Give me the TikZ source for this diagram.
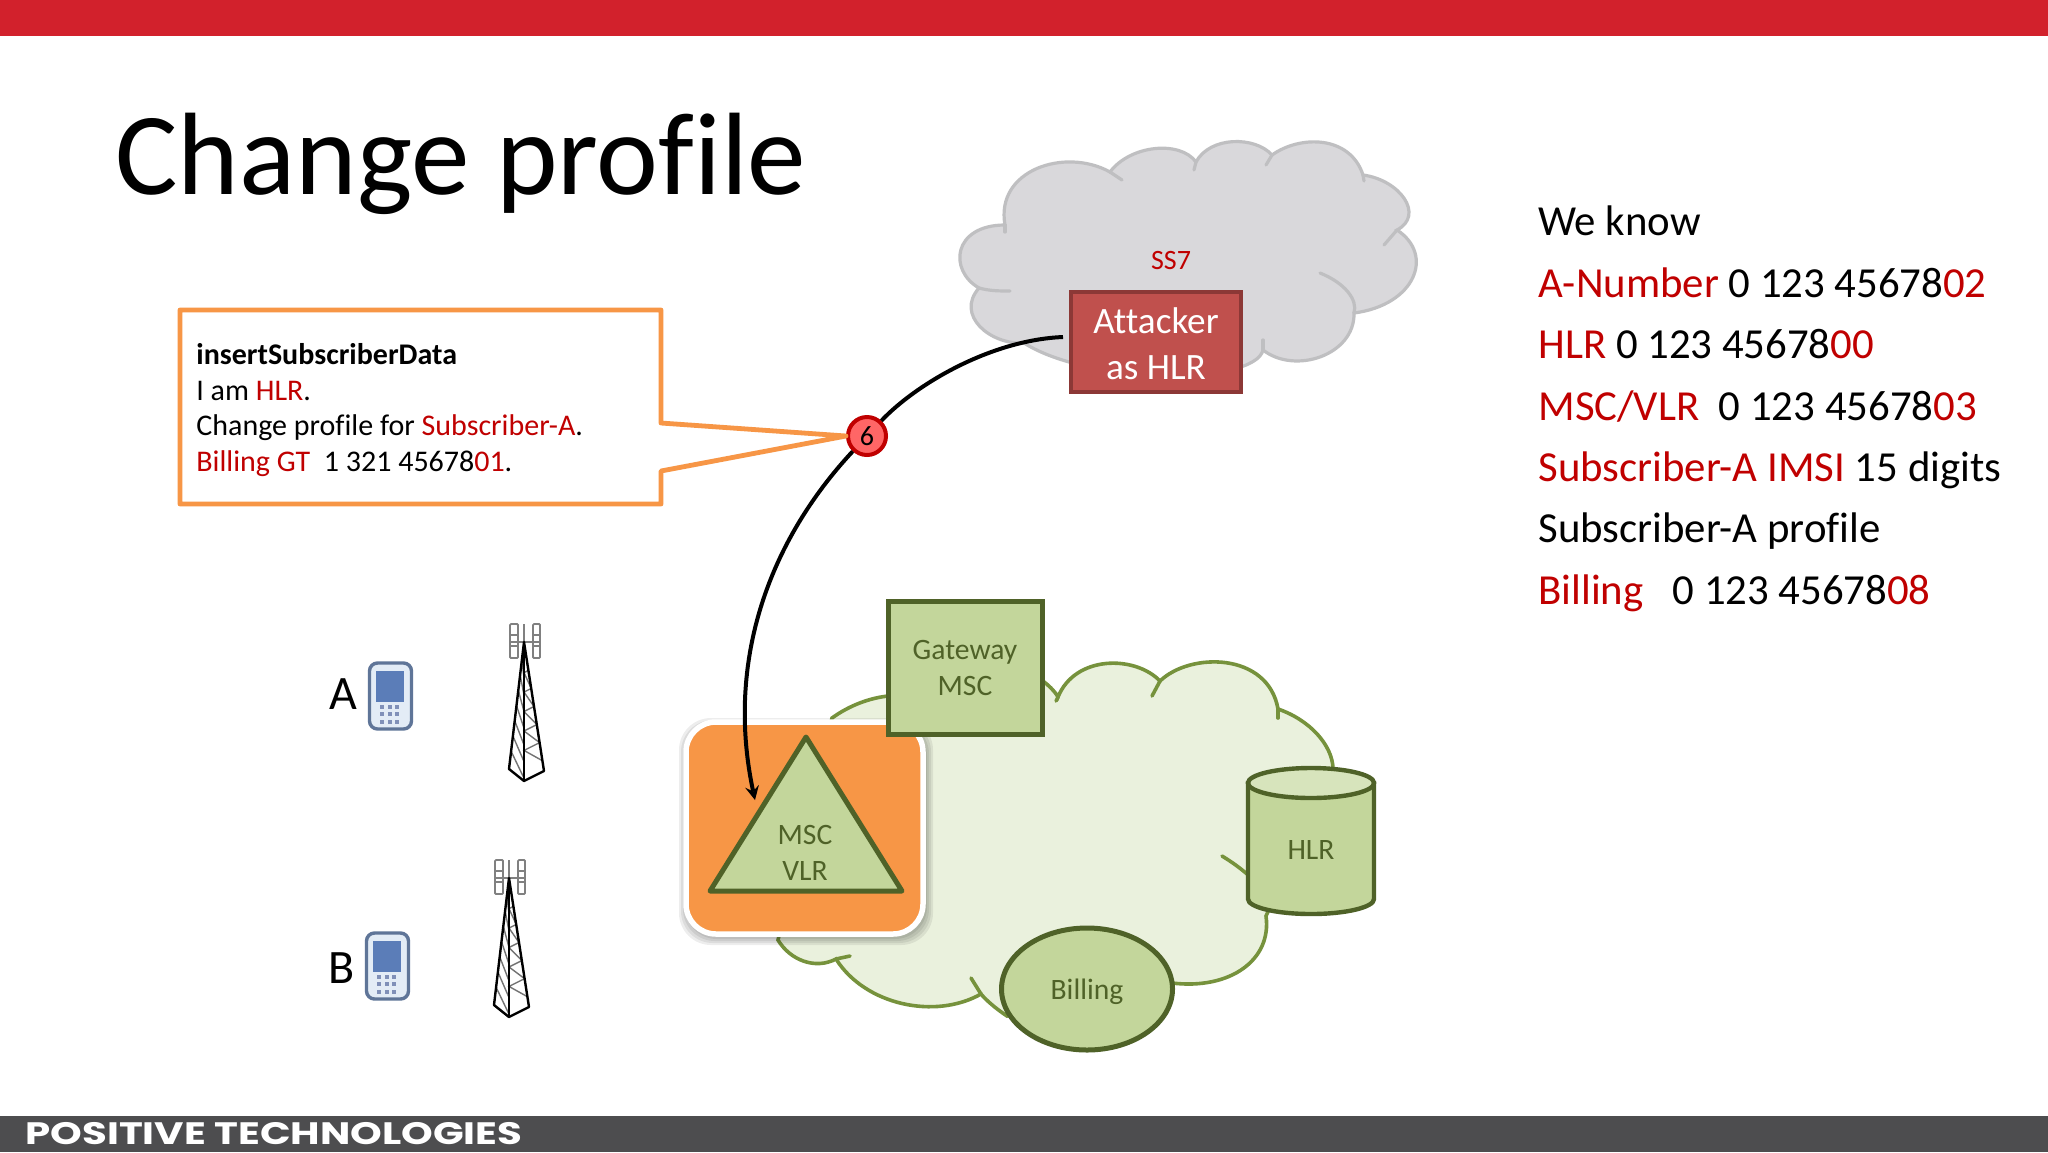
\documentclass[tikz,border=0pt]{standalone}
\usepackage{fontspec}
\setmainfont{Carlito}[Ligatures=NoCommon]
\newfontfamily\logofont{Poppins}
\usetikzlibrary{shapes.geometric, arrows, calc}
\definecolor{topred}{HTML}{D2212C}
\definecolor{footgray}{HTML}{4D4D4F}
\definecolor{ssred}{HTML}{C00000}
\definecolor{orangefill}{HTML}{F79646}
\definecolor{grayfill}{HTML}{D9D8DB}
\definecolor{grayline}{HTML}{BFBFC1}
\definecolor{attfill}{HTML}{C0504D}
\definecolor{attline}{HTML}{8C3836}
\definecolor{cloudfill}{HTML}{EAF1DD}
\definecolor{cloudline}{HTML}{76923C}
\definecolor{eqfill}{HTML}{C3D69B}
\definecolor{eqtop}{HTML}{D7E4BC}
\definecolor{eqline}{HTML}{4F6228}
\definecolor{phoneline}{HTML}{5F7598}
\definecolor{phonefill}{HTML}{E3ECF6}
\definecolor{phonescreen}{HTML}{5B7DB8}
\definecolor{phonekey}{HTML}{8090B8}
\newcommand{\redtxt}[1]{\textcolor{ssred}{#1}}
\tikzstyle{arrow} = [line width=2pt,black,-stealth]
\tikzstyle{link} = [line width=2pt,black]
\tikzstyle{graycloud} = [line width=1.6pt,draw=grayline,line cap=round]
\tikzstyle{greencloud} = [line width=1.8pt,draw=cloudline,line cap=round]
\tikzstyle{equip} = [draw=eqline,fill=eqfill,line width=2.5pt,text=eqline,align=center,inner sep=0pt,font=\fontsize{14.8}{18}\selectfont]
\tikzstyle{equiptext} = [text=eqline,align=center,inner sep=0pt,font=\fontsize{14.8}{18}\selectfont]

\begin{document}
\begin{tikzpicture}[x=0.5pt,y=-0.5pt]
\useasboundingbox (0,0) rectangle (2048,1152);
\fill[white] (0,0) rectangle (2048,1152);
\fill[topred] (0,0) rectangle (2048,36);
\fill[footgray] (0,1116) rectangle (2048,1152);
\node[anchor=base west,inner sep=0pt,text=white,xscale=1.3,font=\logofont\bfseries\fontsize{15.5}{17}\selectfont] (logo) at (25,1144) {POSITIVE TECHNOLOGIES};
\node[anchor=base west,inner sep=0pt,font=\fontsize{58.6}{60}\selectfont] (title) at (115,194) {Change profile};
% SS7 cloud
\path[graycloud,fill=grayfill] (1005,225) .. controls (995,170) and (1065,147) .. (1110,172)
  .. controls (1130,145) and (1180,140) .. (1196,162)
  .. controls (1210,136) and (1255,136) .. (1272,155)
  .. controls (1300,135) and (1350,135) .. (1363,175)
  .. controls (1400,180) and (1425,215) .. (1397,230)
  .. controls (1435,255) and (1415,305) .. (1354,313)
  .. controls (1355,355) and (1295,375) .. (1263,350)
  .. controls (1255,385) and (1090,385) .. (1024,343)
  .. controls (990,345) and (955,315) .. (979,288)
  .. controls (948,270) and (953,225) .. (1005,225) -- cycle;
\draw[graycloud] (1110,172) -- (1122,180);
\draw[graycloud] (1196,162) -- (1194,170);
\draw[graycloud] (1272,155) -- (1266,165);
\draw[graycloud] (1363,175) -- (1364,181);
\draw[graycloud] (1397,230) -- (1384,245);
\draw[graycloud] (1320,273) .. controls (1345,283) and (1358,300) .. (1354,313);
\draw[graycloud] (1263,350) -- (1263,340);
\draw[graycloud] (979,288) .. controls (990,291) and (1000,291) .. (1010,291);
\draw[graycloud] (1005,225) -- (1005,232);
\node[text=ssred,font=\fontsize{14}{16}\selectfont] (ssname) at (1171,261) {SS7};
\node[draw=attline,fill=attfill,line width=2pt,inner sep=0pt,minimum width=85pt,minimum height=50pt] (attacker) at (1156,342) {};
\node[text=white,align=center,inner sep=0pt,font=\fontsize{18.6}{23}\selectfont] (attackername) at (1156,343.5) {Attacker\\as HLR};
% network cloud
\path[greencloud,fill=cloudfill] (832,718) .. controls (850,705) and (870,698) .. (888,696)
  -- (1043,681) .. controls (1048,685) and (1054,690) .. (1058,697)
  .. controls (1075,655) and (1135,655) .. (1160,681)
  .. controls (1190,652) and (1268,652) .. (1278,709)
  .. controls (1310,720) and (1332,745) .. (1333,768)
  -- (1266,916) .. controls (1272,960) and (1230,990) .. (1172,983)
  -- (1007,1016) .. controls (995,1008) and (986,1000) .. (981,994)
  .. controls (935,1020) and (865,1005) .. (836,959)
  .. controls (815,970) and (790,960) .. (778,940) -- cycle;
\draw[greencloud] (981,994) -- (971,978);
\draw[greencloud] (836,959) -- (850,956);
\draw[greencloud] (1278,709) -- (1278,718);
\draw[greencloud] (1160,681) -- (1152,696);
\draw[greencloud] (1058,697) -- (1056,701);
\draw[greencloud] (1222,856) .. controls (1232,862) and (1240,868) .. (1247,874);
% attacked MSC
\foreach \sd in {1,3,5,7}
  \fill[black,opacity=.07,rounded corners=16pt] (686-\sd,725-\sd) rectangle (926+\sd,938+\sd);
\fill[orangefill,draw=white,line width=2.75pt,rounded corners=15pt] (686,722) rectangle (923,934);
\node[equip,minimum width=77pt,minimum height=66.5pt] (gateway) at (965,667.5) {Gateway\\MSC};
\draw[draw=eqline,fill=eqfill,line width=2.5pt,line join=round] (806,737) -- (902,891) -- (710,891) -- cycle;
\node[equiptext] (vlr) at (805,853.3) {MSC\\VLR};
\coordinate (vlrtip) at (755,800);
\draw[draw=eqline,fill=eqfill,line width=2.2pt] (1248,783) -- (1248,899) arc[start angle=180,end angle=0,x radius=63,y radius=15] -- (1374,783) -- cycle;
\draw[draw=eqline,fill=eqtop,line width=2.2pt] (1311,783) ellipse [x radius=63,y radius=15];
\node[equiptext] (hlr) at (1311,850) {HLR};
\node[ellipse,equip,minimum width=85.5pt,minimum height=61pt] (billing) at (1087,989) {};
\node[equiptext] (billingname) at (1087,992) {Billing};
% message box
\node[circle,draw=ssred,fill=red!60!white,line width=2pt,inner sep=0pt,minimum size=19pt,font=\fontsize{14}{16}\selectfont] (badge) at (867,436) {6};
\draw[orangefill,line width=2.4pt,fill=white,line join=round] (180,310) -- (661,310) -- (661,423) -- (badge.west) -- (661,471) -- (661,504) -- (180,504) -- cycle;
\node[anchor=west,align=left,inner sep=0pt,font=\fontsize{15}{17.8}\selectfont] (msgtext) at (196,410) {\textbf{insertSubscriberData}\\I am \redtxt{HLR}.\\Change profile for \redtxt{Subscriber-A}.\\\redtxt{Billing GT}\ \ 1 321 45678\redtxt{01}.};
\draw[link] (badge) .. controls (915,385) and (990,340) .. (1063,337);
\draw[arrow] (badge) .. controls (770,540) and (725,660) .. (vlrtip);
% phones and towers
\node[font=\fontsize{24}{26}\selectfont,inner sep=0pt] (labela) at (343,694) {A};
\node[font=\fontsize{24}{26}\selectfont,inner sep=0pt] (labelb) at (342,968) {B};
\foreach \px/\py in {368/662, 365/932} {
\begin{scope}[shift={(\px,\py)}]
\draw[phoneline,fill=phonefill,line width=1.7pt,rounded corners=4pt] (1.5,1) rectangle (43.5,67);
\fill[phonescreen] (8,9) rectangle (36,40);
\foreach \kx in {14,22,29} \foreach \ky in {45,52,60}
  \fill[phonekey] (\kx-2,\ky-2) rectangle (\kx+2,\ky+2);
\end{scope}
}
\foreach \tx/\ty in {524/642, 509/878} {
\begin{scope}[shift={(\tx,\ty)}]
\draw[gray,line width=.9pt,rounded corners=.5pt] (-14,-18) rectangle (-6,16);
\draw[gray,line width=.9pt,rounded corners=.5pt] (9,-18) rectangle (16,16);
\foreach \ay in {-7,4} \draw[gray,line width=.8pt] (-14,\ay) -- (-6,\ay) (9,\ay) -- (16,\ay);
\draw[gray,line width=.9pt] (-14,0) -- (16,0) (0,-18) -- (0,0);
\foreach \fa in {.14,.26,.38,.5,.62,.74,.86}
  \draw[black!55,line width=.7pt] ($(0,0)!\fa!(-15,127)$) -- ($(0,0)!\fa+.12!(0,139)$);
\foreach \fa in {.22,.36,.5,.64,.78}
  \draw[black!55,line width=.7pt] ($(0,0)!\fa!(20,129)$) -- ($(0,0)!\fa!(0,139)$) -- ($(0,0)!\fa+.14!(20,129)$);
\draw[black,line width=1.2pt,line join=round] (-15,127) -- (0,0) -- (20,129) -- (0,139) -- cycle;
\draw[black,line width=1.2pt] (0,0) -- (0,139);
\end{scope}
}
% what we know
\node[anchor=west,align=left,inner sep=0pt,font=\fontsize{21.4}{30.7}\selectfont] (known) at (1538,409) {We know\\\redtxt{A-Number} 0 123 45678\redtxt{02}\\\redtxt{HLR} 0 123 45678\redtxt{00}\\\redtxt{MSC/VLR}\ \ 0 123 45678\redtxt{03}\\\redtxt{Subscriber-A IMSI} 15 digits\\Subscriber-A profile\\\redtxt{Billing}\ \ \ 0 123 45678\redtxt{08}};
\end{tikzpicture}
\end{document}
